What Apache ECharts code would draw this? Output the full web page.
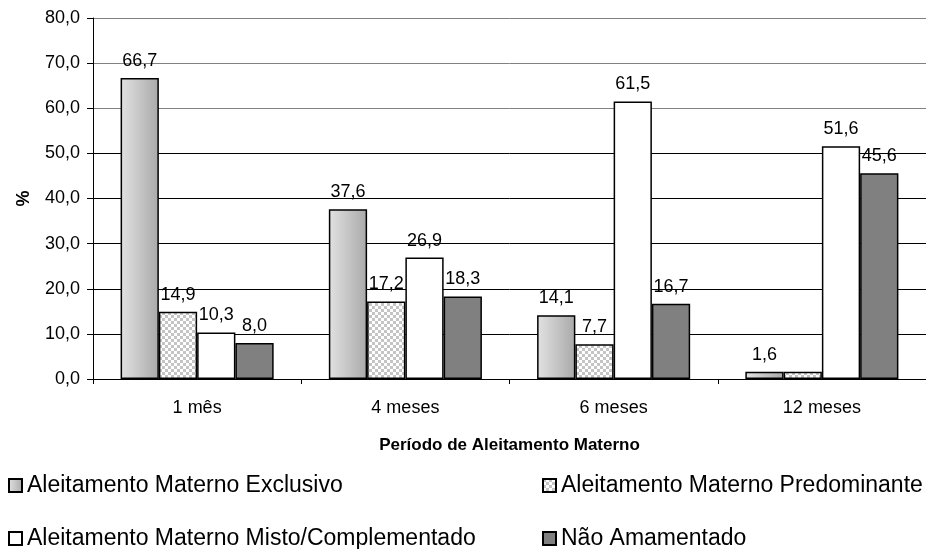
<!DOCTYPE html>
<html>
<head>
<meta charset="utf-8">
<script src="https://cdn.jsdelivr.net/npm/echarts@6/dist/echarts.min.js"></script>
<style>
  html, body { margin: 0; padding: 0; background: #fff; }
  #chart { width: 926px; height: 549px; }
</style>
</head>
<body>
<div id="chart"></div>
<script>
// Período de aleitamento e percentual por tipo de aleitamento
const categories = ['1 mês', '4 meses', '6 meses', '12 meses'];
const seriesNames = [
  'Aleitamento Materno Exclusivo',
  'Aleitamento Materno Predominante',
  'Aleitamento Materno Misto/Complementado',
  'Não Amamentado'
];
const exclusivo = [66.7, 37.6, 14.1, 1.6];
const predominante = [14.9, 17.2, 7.7, 1.6];
const misto = [10.3, 26.9, 61.5, 51.6];
const naoAmamentado = [8.0, 18.3, 16.7, 45.6];
const yTicks = { min: 0, max: 80, interval: 10 };
// último valor de "Predominante" não traz rótulo
const predominanteSemRotulo = [3];

const FONT = '"Liberation Sans", Arial, sans-serif';
const fmt = v => Number(v).toFixed(1).replace('.', ',');

// padrão xadrez para "Predominante"
function checker() {
  const c = document.createElement('canvas');
  c.width = 6; c.height = 6;
  const g = c.getContext('2d');
  g.fillStyle = '#ffffff'; g.fillRect(0, 0, 6, 6);
  g.fillStyle = '#c4c4c4';
  g.fillRect(0, 0, 3, 3); g.fillRect(3, 3, 3, 3);
  return c;
}

const gradExclusivo = new echarts.graphic.LinearGradient(0, 0, 1, 0, [
  { offset: 0, color: '#e2e2e2' },
  { offset: 1, color: '#a9a9a9' }
]);

const labelCfg = {
  show: true, position: 'top', distance: 8,
  color: '#000', fontFamily: FONT, fontSize: 18,
  formatter: p => fmt(p.value)
};
const border = { borderColor: '#000', borderWidth: 1.5 };

// uma legenda por item, em duas colunas e duas linhas
const legendPos = [
  { left: 3, top: 469 },
  { left: 537, top: 469 },
  { left: 3, top: 522 },
  { left: 537, top: 522 }
];
const legends = seriesNames.map((n, i) => ({
  left: legendPos[i].left, top: legendPos[i].top,
  itemWidth: 13, itemHeight: 13, icon: 'rect', itemGap: 0,
  textStyle: { fontFamily: FONT, fontSize: 23, color: '#000', padding: [0, 0, 0, 0] },
  data: [n]
}));

const chart = echarts.init(document.getElementById('chart'));
chart.setOption({
  animation: false,
  backgroundColor: '#fff',
  grid: { left: 93, top: 18, width: 840, height: 361, containLabel: false },
  xAxis: {
    type: 'category',
    data: categories,
    name: 'Período de Aleitamento Materno',
    nameLocation: 'middle',
    nameGap: 58,
    nameTextStyle: { fontFamily: FONT, fontSize: 17, fontWeight: 'bold', color: '#000' },
    axisLine: { lineStyle: { color: '#000', width: 1 } },
    axisTick: { show: true, length: 5, lineStyle: { color: '#000' } },
    axisLabel: { fontFamily: FONT, fontSize: 18, color: '#000', margin: 20 }
  },
  yAxis: {
    type: 'value',
    min: yTicks.min, max: yTicks.max, interval: yTicks.interval,
    name: '%',
    nameLocation: 'middle',
    nameRotate: 90,
    nameGap: 60,
    nameTextStyle: { fontFamily: FONT, fontSize: 18, fontWeight: 'bold', color: '#000' },
    axisLine: { show: true, lineStyle: { color: '#000', width: 1 } },
    axisTick: { show: true, length: 6, lineStyle: { color: '#000' } },
    axisLabel: { fontFamily: FONT, fontSize: 18, color: '#000', margin: 13, formatter: v => fmt(v) },
    splitLine: { lineStyle: { color: ['#000', '#000', '#000', '#000', '#000', '#000', '#808080', '#808080', '#808080'], width: 1 } }
  },
  legend: legends,
  series: [
    {
      name: seriesNames[0], type: 'bar',
      barGap: '0%', barCategoryGap: '26.5%',
      data: exclusivo,
      itemStyle: Object.assign({ color: gradExclusivo }, border),
      label: labelCfg
    },
    {
      name: seriesNames[1], type: 'bar',
      data: predominante.map((v, i) => predominanteSemRotulo.includes(i)
        ? { value: v, label: { show: false } } : v),
      itemStyle: Object.assign({ color: { image: checker(), repeat: 'repeat' } }, border),
      label: labelCfg
    },
    {
      name: seriesNames[2], type: 'bar',
      data: misto,
      itemStyle: Object.assign({ color: '#ffffff' }, border),
      label: labelCfg
    },
    {
      name: seriesNames[3], type: 'bar',
      data: naoAmamentado,
      itemStyle: Object.assign({ color: '#808080' }, border),
      label: labelCfg
    }
  ]
});
</script>
</body>
</html>
